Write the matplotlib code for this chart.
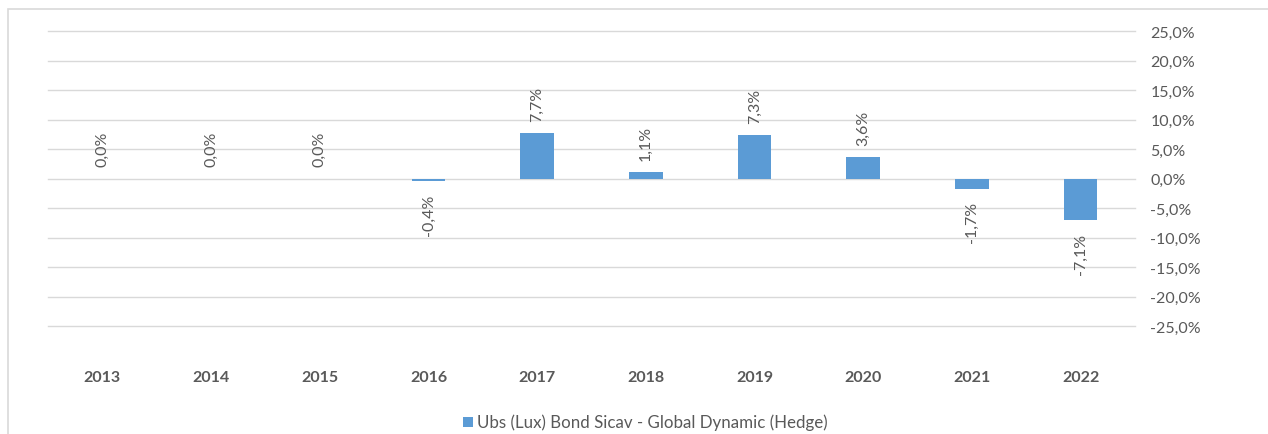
import matplotlib
matplotlib.use("Agg")
import matplotlib.pyplot as plt
from matplotlib.patches import Rectangle
from matplotlib.ticker import FuncFormatter, MultipleLocator

years = ["2013", "2014", "2015", "2016", "2017", "2018", "2019", "2020", "2021", "2022"]
values = [0.0, 0.0, 0.0, -0.4, 7.7, 1.1, 7.3, 3.6, -1.7, -7.1]
series_name = "Ubs (Lux) Bond Sicav - Global Dynamic (Hedge)"

plt.rcParams['font.family'] = ['Lato', 'DejaVu Sans']
TXT = "#595959"
BAR = "#5B9BD5"
GRID = "#D9D9D9"
FS = 11.5

W, H = 1268, 435
fig = plt.figure(figsize=(W / 100, H / 100), dpi=100)

# chart border
fig.patches.append(Rectangle((8 / W, -0.1), 1.2, 1 - 10 / H + 0.1, transform=fig.transFigure,
                             fill=False, edgecolor="#D9D9D9", linewidth=1.2))

left, right, top, bottom = 48, 1135, 32, 327
ax = fig.add_axes([left / W, 1 - bottom / H, (right - left) / W, (bottom - top) / H])

x = range(len(years))
bars = ax.bar(x, values, width=0.31, color=BAR, zorder=3)
ax.set_xlim(-0.5, len(years) - 0.5)
ax.set_ylim(-25, 25)
ax.yaxis.set_major_locator(MultipleLocator(5))
ax.yaxis.set_major_formatter(FuncFormatter(lambda v, p: f"{v:.1f}%".replace(".", ",")))
ax.yaxis.tick_right()
ax.tick_params(axis='y', length=0, pad=11, labelsize=FS, labelcolor=TXT)
ax.set_xticks(list(x))
ax.set_xticklabels(years, fontweight='bold')
ax.tick_params(axis='x', length=0, pad=32, labelsize=FS, labelcolor=TXT)
ax.grid(axis='y', color=GRID, linewidth=1, zorder=0)
for gl in ax.get_ygridlines():
    gl.set_clip_on(False)
for s in ax.spines.values():
    s.set_visible(False)

for xi, v in zip(x, values):
    label = f"{v:.1f}%".replace(".", ",")
    if v >= 0:
        ax.annotate(label, (xi, v), xytext=(0, 9), textcoords='offset points',
                    rotation=90, ha='center', va='bottom', fontsize=FS, color=TXT)
    else:
        ax.annotate(label, (xi, v), xytext=(0, -9), textcoords='offset points',
                    rotation=90, ha='center', va='top', fontsize=FS, color=TXT)

# legend
fig.patches.append(Rectangle((463 / W, 1 - 428 / H), 10 / W, 10 / H, transform=fig.transFigure,
                             facecolor=BAR, edgecolor='none'))
fig.text(477 / W, 1 - 423 / H, series_name, ha='left', va='center', fontsize=12.2, color=TXT)

fig.savefig("out.png", dpi=100)
